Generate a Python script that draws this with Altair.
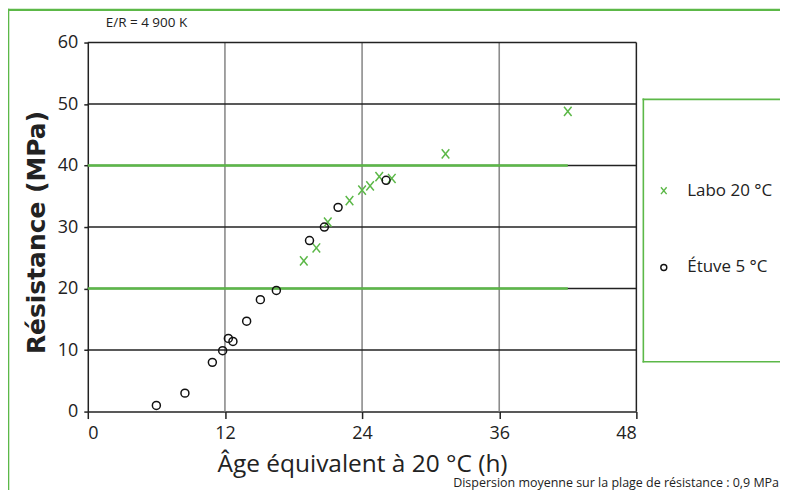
import altair as alt
import pandas as pd

# ---- data ----
etuve_x = [6.0, 8.5, 10.9, 11.8, 12.3, 12.7, 13.9, 15.1, 16.5, 19.4, 20.7, 21.9, 26.1]
etuve_y = [1.0, 3.0, 8.0, 9.9, 11.9, 11.4, 14.7, 18.2, 19.7, 27.8, 30.0, 33.2, 37.6]
labo_x = [18.9, 20.0, 21.0, 22.9, 24.0, 24.7, 25.5, 26.6, 31.3, 42.0]
labo_y = [24.5, 26.6, 30.8, 34.3, 36.0, 36.7, 38.2, 37.9, 41.9, 48.8]
series_names = ["Labo 20 °C", "Étuve 5 °C"]
x_ticks = [0, 12, 24, 36, 48]
y_ticks = [0, 10, 20, 30, 40, 50, 60]
vgrid_gray = [12, 24, 36]
vgrid_black = [48]
hgrid_black = [10, 20, 30, 40, 50, 60]
hgrid_green = [20, 40]
green_end = 42

GREEN = "#5cb848"
FONT = "Open Sans"

pts = pd.DataFrame(
    {"x": labo_x + etuve_x,
     "y": labo_y + etuve_y,
     "s": [series_names[0]] * len(labo_x) + [series_names[1]] * len(etuve_x)}
)

xs = alt.Scale(domain=[0, 48], nice=False, zero=False)
ys = alt.Scale(domain=[0, 60], nice=False, zero=False)

xaxis = alt.Axis(values=x_ticks, title="Âge équivalent à 20 °C (h)", grid=False,
                 tickSize=7, tickColor="#222", domainColor="#222", domainWidth=1.5,
                 tickWidth=1.5, labelFontSize=18, labelColor="#222", labelPadding=6,
                 labelFont=FONT, titleFont=FONT, titleFontSize=24.5, titleFontWeight="normal",
                 titleColor="#222", titlePadding=10)
yaxis = alt.Axis(values=y_ticks, title="Résistance (MPa)", grid=False,
                 tickSize=4, tickColor="#222", domainColor="#222", domainWidth=1.5,
                 tickWidth=1.5, labelFontSize=18, labelColor="#222", labelPadding=6,
                 labelFont=FONT, titleFont="DejaVu Sans", titleFontSize=25,
                 titleFontWeight="bold", titleColor="#222", titlePadding=8, titleY=190)

one = pd.DataFrame({"a": [0]})


def hline(x0, x1, y, w):
    return alt.Chart(one).mark_rule(color=GREEN, strokeWidth=w).encode(
        x=alt.value(x0), x2=alt.value(x1), y=alt.value(y))


def vline(x, y0, y1, w):
    return alt.Chart(one).mark_rule(color=GREEN, strokeWidth=w).encode(
        x=alt.value(x), y=alt.value(y0), y2=alt.value(y1))


# outer frame (left, top) and legend box (left, top, bottom); right sides are off-page
RIGHT = 694
frame_l = vline(-79.8, -33.9, 470, 2.2)
frame_t = hline(-80.9, RIGHT, -32.8, 2.2)
box_l = vline(557, 56.2, 320.8, 1.6)
box_t = hline(556.2, RIGHT, 57, 1.6)
box_b = hline(556.2, RIGHT, 320, 1.6)

vg = alt.Chart(pd.DataFrame({"x": vgrid_gray})).mark_rule(color="#8c8c8c", strokeWidth=1.6).encode(
    x=alt.X("x:Q", scale=xs, axis=xaxis))
vb = alt.Chart(pd.DataFrame({"x": vgrid_black})).mark_rule(color="#222", strokeWidth=1.5).encode(
    x=alt.X("x:Q", scale=xs))
hb = alt.Chart(pd.DataFrame({"y": hgrid_black})).mark_rule(color="#222", strokeWidth=1.5).encode(
    y=alt.Y("y:Q", scale=ys, axis=yaxis))
hg = alt.Chart(pd.DataFrame({"y": hgrid_green, "x0": [0] * len(hgrid_green),
                             "x1": [green_end] * len(hgrid_green)})).mark_rule(
    color=GREEN, strokeWidth=2.6).encode(
    y=alt.Y("y:Q", scale=ys), x=alt.X("x0:Q", scale=xs), x2="x1:Q")

points = alt.Chart(pts).mark_point(filled=False, strokeWidth=1.5, size=64, opacity=1).encode(
    x=alt.X("x:Q", scale=xs),
    y=alt.Y("y:Q", scale=ys),
    color=alt.Color("s:N", scale=alt.Scale(domain=series_names, range=[GREEN, "#111"]),
                    legend=alt.Legend(title=None, orient="none", legendX=569, legendY=140,
                                      rowPadding=59, labelFontSize=17, labelFont=FONT,
                                      labelColor="#222", labelOffset=15, symbolSize=36,
                                      symbolStrokeWidth=1.4, padding=0)),
    shape=alt.Shape("s:N", scale=alt.Scale(domain=series_names,
                                           range=["M-0.95,-1.15L0.95,1.15M-0.95,1.15L0.95,-1.15",
                                                  "circle"])),
)

er = alt.Chart(one).mark_text(text="E/R = 4 900 K", font=FONT, fontSize=13.5, align="left",
                              baseline="middle", color="#222").encode(
    x=alt.value(18), y=alt.value(-20))
foot = alt.Chart(one).mark_text(text="Dispersion moyenne sur la plage de résistance : 0,9 MPa",
                                font=FONT, fontSize=12.5, align="right", baseline="alphabetic",
                                color="#222").encode(x=alt.value(693), y=alt.value(446))

chart = alt.layer(frame_l, frame_t, box_l, box_t, box_b, vg, vb, hb, hg, points, er, foot).properties(
    width=550, height=370,
    autosize=alt.AutoSizeParams(type="none"),
    padding={"left": 80, "top": 34, "right": 144, "bottom": 78},
).configure_view(stroke=None)

chart.save("out.html", embed_options={"renderer": "svg", "actions": False})
